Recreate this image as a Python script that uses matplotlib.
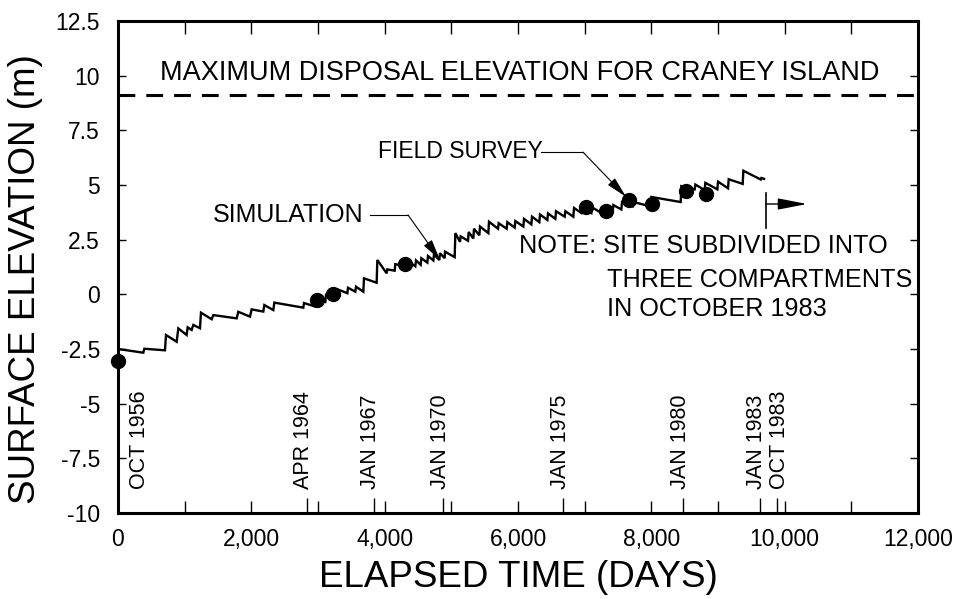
import numpy as np
import matplotlib
matplotlib.use("Agg")
import matplotlib.pyplot as plt
from matplotlib.ticker import MultipleLocator

plt.rcParams['font.family'] = ['Liberation Sans', 'DejaVu Sans']

# simulated surface elevation (sawtooth: fill jumps then consolidation)
sim_days = [0, 380, 395, 705, 720, 880, 905, 1030, 1045, 1105, 1130, 1230, 1245,
            1405, 1430, 1780, 1805, 1980, 2005, 2180, 2195, 2330, 2345, 2780, 2790,
            2950, 2960, 3110, 3120, 3290, 3300, 3440, 3450, 3560, 3570, 3680, 3690,
            3880, 3890, 4030, 4040, 4150, 4160, 4370, 4380, 4460, 4470, 4540, 4550,
            4640, 4650, 4730, 4740, 4820, 4830, 4900, 4905, 5050, 5060, 5130, 5140,
            5250, 5260, 5330, 5340, 5420, 5430, 5555, 5565, 5700, 5710, 5830, 5840,
            5950, 5960, 6080, 6090, 6200, 6210, 6320, 6330, 6440, 6450, 6560, 6570,
            6700, 6710, 6830, 6840, 6950, 6960, 7100, 7110, 7250, 7260, 7420, 7430,
            7550, 7560, 7720, 7730, 7990, 8000, 8440, 8450, 8650, 8660, 8800, 8810,
            8990, 9000, 9150, 9160, 9370, 9380, 9640, 9650, 9690]
sim_elev = [-2.50, -2.67, -2.49, -2.56, -1.86, -2.17, -1.56, -1.86, -1.51, -1.63, -1.40, -1.55, -0.84,
            -1.14, -0.95, -1.10, -0.80, -1.02, -0.69, -0.79, -0.49, -0.72, -0.38, -0.61, -0.40,
            -0.55, -0.25, -0.35, -0.02, -0.10, 0.22, 0.05, 0.30, 0.12, 0.35, 0.12, 0.73,
            0.53, 1.57, 0.96, 1.14, 1.08, 1.38, 1.23, 1.45, 1.28, 1.55, 1.35, 1.65,
            1.45, 1.75, 1.55, 1.82, 1.57, 1.88, 1.65, 1.95, 1.70, 2.80, 2.40, 2.65,
            2.45, 2.85, 2.55, 3.00, 2.70, 3.10, 2.80, 3.32, 3.00, 3.25, 3.00, 3.30,
            3.05, 3.35, 3.10, 3.45, 3.20, 3.55, 3.30, 3.65, 3.40, 3.70, 3.45, 3.80,
            3.55, 3.80, 3.55, 3.95, 3.72, 4.02, 3.72, 3.98, 3.72, 3.95, 3.75, 4.08,
            3.88, 4.22, 4.02, 4.22, 4.02, 4.45, 4.22, 4.95, 4.80, 5.02, 4.76, 5.10,
            4.80, 5.15, 4.85, 5.26, 5.05, 5.65, 5.25, 5.32, 5.28]

# field survey points
survey_days = [0, 2980, 3220, 4310, 7015, 7315, 7665, 8005, 8520, 8820]
survey_elev = [-3.05, -0.28, 0.03, 1.38, 3.98, 3.82, 4.30, 4.13, 4.74, 4.59]

max_disposal = 9.1

date_days = [0, 2840, 3840, 4880, 6680, 8480, 9630, 9880]
date_labels = ['OCT 1956', 'APR 1964', 'JAN 1967', 'JAN 1970',
               'JAN 1975', 'JAN 1980', 'JAN 1983', 'OCT 1983']

x_ticks = [0, 2000, 4000, 6000, 8000, 10000, 12000]
x_tick_labels = ['0', '2,000', '4,000', '6,000', '8,000', '10,000', '12,000']
y_ticks = [-10, -7.5, -5, -2.5, 0, 2.5, 5, 7.5, 10, 12.5]
y_tick_labels = ['-10', '-7.5', '-5', '-2.5', '0', '2.5', '5', '7.5', '10', '12.5']

note_lines = ['NOTE: SITE SUBDIVIDED INTO', 'THREE COMPARTMENTS', 'IN OCTOBER 1983']

fig = plt.figure(figsize=(9.56, 5.99), dpi=100)
ax = fig.add_axes([0.1234, 0.1436, 0.8369, 0.8214])

ax.plot(sim_days, sim_elev, color='black', lw=1.7, solid_joinstyle='miter', zorder=3)
ax.plot(survey_days, survey_elev, 'o', color='black', ms=10, zorder=4, clip_on=False)
ax.axhline(max_disposal, color='black', lw=2.2, dashes=(5.5, 3.6))

ax.set_xlim(0, 12000)
ax.set_ylim(-10, 12.5)
ax.set_xticks(x_ticks)
ax.set_xticklabels(x_tick_labels)
ax.xaxis.set_minor_locator(MultipleLocator(1000))
ax.set_yticks(y_ticks)
ax.set_yticklabels(y_tick_labels)
ax.tick_params(axis='x', which='both', direction='in', top=True, length=9, width=1,
               labelsize=16.5, pad=11)
ax.tick_params(axis='y', direction='in', right=True, length=6, width=1,
               labelsize=16.5, pad=13)
for s in ax.spines.values():
    s.set_linewidth(2.2)

ax.set_xlabel('ELAPSED TIME (DAYS)', fontsize=26.5, labelpad=6)
ax.set_ylabel('SURFACE ELEVATION (m)', fontsize=26.5)
ax.yaxis.set_label_coords(-0.094, 0.475)

# date markers along the time axis
ax.vlines(date_days, -10, -9.3, color='black', lw=1)
for i, (d, lab) in enumerate(zip(date_days, date_labels)):
    if i == 0:
        xx, ha = d + 160, 'left'
    elif i == len(date_days) - 1:
        xx, ha = d + 45, 'center'
    else:
        xx, ha = d - 50, 'center'
    ax.text(xx, -8.9, lab, rotation=90, ha=ha, va='bottom', fontsize=15.5)

ax.text(6030, 10.1, 'MAXIMUM DISPOSAL ELEVATION FOR CRANEY ISLAND',
        ha='center', va='center', fontsize=19.5)

# leader arrows
arw = dict(arrowstyle='-|>,head_length=1.3,head_width=0.3', color='black', lw=0.8,
           shrinkA=0, shrinkB=0)
ax.text(1425, 3.63, 'SIMULATION', ha='left', va='center', fontsize=18)
ax.plot([3780, 4350], [3.63, 3.63], color='black', lw=0.8)
ax.annotate('', xy=(4830, 1.57), xytext=(4350, 3.63), arrowprops=arw)

ax.text(3900, 6.55, 'FIELD SURVEY', ha='left', va='center', fontsize=16.5)
ax.plot([6340, 6975], [6.5, 6.5], color='black', lw=0.8)
ax.annotate('', xy=(7620, 4.46), xytext=(6975, 6.5), arrowprops=arw)

ax.plot([9715, 9715], [3.03, 4.63], color='black', lw=1.2)
ax.annotate('', xy=(10335, 4.13), xytext=(9715, 4.13),
            arrowprops=dict(arrowstyle='-|>,head_length=1.8,head_width=0.35',
                            color='black', lw=1.0, shrinkA=0, shrinkB=0))

ax.text(6015, 2.2, note_lines[0], ha='left', va='center', fontsize=18.2)
ax.text(7335, 0.67, note_lines[1], ha='left', va='center', fontsize=18.2)
ax.text(7335, -0.67, note_lines[2], ha='left', va='center', fontsize=18.2)

fig.savefig('out.png', dpi=100)
